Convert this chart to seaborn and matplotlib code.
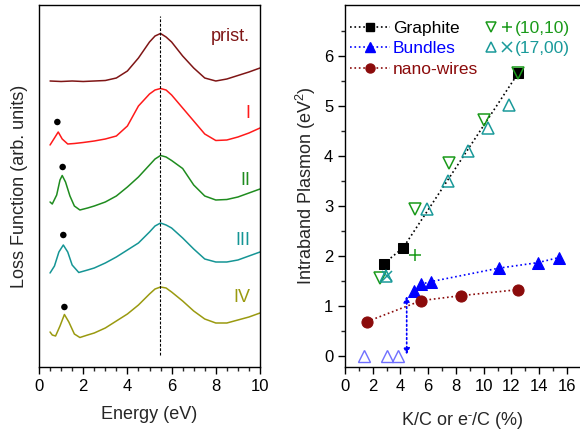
import numpy as np
import pandas as pd
import matplotlib
matplotlib.use("Agg")
import matplotlib.pyplot as plt
import seaborn as sns
from matplotlib.lines import Line2D
from matplotlib.legend_handler import HandlerTuple
from matplotlib.ticker import MultipleLocator, NullLocator, FixedLocator

# ---- left panel: loss function spectra (arb. units, offset) ----
e_prist = [0.5, 1, 1.5, 2, 2.5, 3, 3.5, 4, 4.5, 5, 5.25, 5.5, 5.75, 6, 6.5, 7, 7.5, 8, 8.5, 9, 9.5, 10]
y_prist = [286, 285.5, 286, 285.5, 286, 286.5, 289, 296, 309, 325, 331, 333.5, 330, 325, 311, 299, 289, 286, 288, 291.5, 295, 299]

e_I = [0.5, 0.7, 0.87, 1.05, 1.3, 1.6, 2, 2.5, 3, 3.5, 4, 4.5, 5, 5.25, 5.5, 5.75, 6, 6.5, 7, 7.5, 8, 8.5, 9, 9.5, 10]
y_I = [222, 229, 235, 228, 223, 223.5, 224.5, 226, 228, 231, 241, 261, 273, 277, 278.5, 277, 272, 259, 246, 233, 226.5, 227, 230, 234, 239]

e_II = [0.5, 0.6, 0.8, 0.95, 1.05, 1.2, 1.4, 1.6, 1.85, 2.2, 2.5, 3, 3.5, 4, 4.5, 5, 5.25, 5.5, 5.75, 6, 6.5, 7, 7.5, 8, 8.5, 9, 9.5, 10]
y_II = [165, 163, 172, 187, 191.5, 185, 171, 161, 157, 159, 161, 165, 171, 180, 190, 202, 208, 211.5, 210, 206.5, 198.5, 182, 171, 167, 167.5, 170, 174, 178]

e_III = [0.5, 0.7, 0.9, 1.1, 1.3, 1.5, 1.8, 2.2, 2.5, 3, 3.5, 4, 4.5, 5, 5.25, 5.5, 5.75, 6, 6.5, 7, 7.5, 8, 8.5, 9, 9.5, 10]
y_III = [94, 101, 115, 122, 115, 102, 94.5, 97, 99, 104, 110, 117, 124, 135, 141, 144, 142, 139, 129, 118, 108, 105, 105, 107, 111, 115]

e_IV = [0.5, 0.6, 0.75, 0.95, 1.15, 1.35, 1.6, 1.85, 2.2, 2.5, 3, 3.5, 4, 4.5, 5, 5.25, 5.5, 5.75, 6, 6.5, 7, 7.5, 8, 8.5, 9, 9.5, 10]
y_IV = [35, 32, 31, 41, 52.5, 45, 33, 29.5, 32, 34, 39, 46, 53, 62, 73, 78, 80, 79, 75, 66, 56, 48, 44, 44, 47, 50, 54]

spec_labels = ["prist.", "I", "II", "III", "IV"]
spec_colors = ["#7f1515", "#ff1a1a", "#1f8c1f", "#159595", "#9a9a10"]
label_y = [331, 254, 187, 127, 70]
dot_e = [0.83, 1.07, 1.1, 1.15]
dot_y = [245, 200, 132, 60]
plasmon_e = 5.47

# ---- right panel: intraband plasmon vs doping ----
graphite_x = [2.8, 4.2, 12.5]
graphite_y = [1.85, 2.17, 5.67]
bundles_x = [5.0, 5.5, 6.2, 11.1, 13.9, 15.4]
bundles_y = [1.31, 1.44, 1.49, 1.76, 1.87, 1.97]
wires_x = [1.6, 5.5, 8.4, 12.5]
wires_y = [0.69, 1.11, 1.21, 1.33]
bundles_zero_x = [1.4, 3.0, 3.85]
bundles_zero_y = [0, 0, 0]
t1010_x = [2.5, 5.05, 7.5, 10.05, 12.5]
t1010_y = [1.57, 2.95, 3.87, 4.73, 5.66]
p1010_x = [5.05]
p1010_y = [2.03]
t1700_x = [2.95, 5.9, 7.45, 8.9, 10.35, 11.8]
t1700_y = [1.6, 2.94, 3.51, 4.1, 4.57, 5.02]
x1700_x = [3.0]
x1700_y = [1.61]
arrow_x = 4.45
arrow_y = [0.03, 1.2]

sns.set_theme(style="ticks")
plt.rcParams["font.family"] = ["Liberation Sans", "DejaVu Sans"]
plt.rcParams["mathtext.fontset"] = "custom"
plt.rcParams["mathtext.rm"] = "Liberation Sans"
plt.rcParams["mathtext.it"] = "Liberation Sans"

fig = plt.figure(figsize=(5.8, 4.32), dpi=100)
ax1 = fig.add_axes([39 / 580, 65 / 432, 221 / 580, 362 / 432])
ax2 = fig.add_axes([345 / 580, 65 / 432, 235 / 580, 362 / 432])

# left panel
spectra = [(e_prist, y_prist), (e_I, y_I), (e_II, y_II), (e_III, y_III), (e_IV, y_IV)]
for (e, y), c in zip(spectra, spec_colors):
    df = pd.DataFrame({"E": e, "L": y})
    sns.lineplot(data=df, x="E", y="L", ax=ax1, color=c, lw=1.1, sort=False, estimator=None)
for lab, c, ly in zip(spec_labels, spec_colors, label_y):
    ax1.text(9.55, ly, lab, color=c, fontsize=13, ha="right", va="center")
sns.scatterplot(x=dot_e, y=dot_y, ax=ax1, color="black", s=22, edgecolor="none")
ax1.plot([plasmon_e, plasmon_e], [12, 351], color="black", ls=(0, (2.5, 1.5)), lw=0.8)

ax1.set_xlim(0, 10)
ax1.set_ylim(0, 362)
ax1.xaxis.set_major_locator(MultipleLocator(2))
ax1.xaxis.set_minor_locator(MultipleLocator(0.5))
ax1.yaxis.set_major_locator(NullLocator())
ax1.set_xlabel("Energy (eV)", fontsize=13, labelpad=9)
ax1.set_ylabel("Loss Function (arb. units)", fontsize=13, labelpad=8)

# right panel
sns.lineplot(x=graphite_x, y=graphite_y, ax=ax2, color="black", ls=":", lw=1.2,
             marker="s", ms=6.5, mec="black", sort=False, estimator=None)
sns.lineplot(x=bundles_x, y=bundles_y, ax=ax2, color="#0000ff", ls=":", lw=1.2,
             marker="^", ms=8.5, mec="#0000ff", sort=False, estimator=None)
sns.lineplot(x=wires_x, y=wires_y, ax=ax2, color="#8b0b0b", ls=":", lw=1.2,
             marker="o", ms=8, mec="#8b0b0b", sort=False, estimator=None)
ax2.plot(bundles_zero_x, bundles_zero_y, ls="none", marker="^", ms=8, mfc="none", mec="#6f6fff", mew=1)
ax2.plot(t1010_x, t1010_y, ls="none", marker="v", ms=8, mfc="none", mec="#1a9a1a", mew=1.1)
ax2.plot(p1010_x, p1010_y, ls="none", marker="+", ms=8, mec="#1a9a1a", mew=1.1)
ax2.plot(t1700_x, t1700_y, ls="none", marker="^", ms=8, mfc="none", mec="#1a9a9a", mew=1.1)
ax2.plot(x1700_x, x1700_y, ls="none", marker="x", ms=7, mec="#1a9a9a", mew=1.1)
ax2.annotate("", xy=(arrow_x, arrow_y[0]), xytext=(arrow_x, arrow_y[1]),
             arrowprops=dict(arrowstyle="<|-|>", color="#0000ff", ls=":", lw=1.2,
                             mutation_scale=9, shrinkA=0, shrinkB=0))

ax2.set_xlim(0, 16.95)
ax2.set_ylim(-0.22, 7.03)
ax2.xaxis.set_major_locator(MultipleLocator(2))
ax2.xaxis.set_minor_locator(MultipleLocator(1))
ax2.yaxis.set_major_locator(FixedLocator([0, 1, 2, 3, 4, 5, 6]))
ax2.yaxis.set_minor_locator(FixedLocator([0.5, 1.5, 2.5, 3.5, 4.5, 5.5, 6.5]))
ax2.spines["right"].set_visible(False)
ax2.set_xlabel("K/C or e$^{\\bar{\\ }}$/C (%)", fontsize=13, labelpad=12)
ax2.set_ylabel("Intraband Plasmon (eV$^2$)", fontsize=13)

for ax in (ax1, ax2):
    for s in ax.spines.values():
        s.set_linewidth(1.0)
        s.set_color("black")
    ax.tick_params(which="major", direction="out", length=5, width=1, labelsize=12, colors="black")
    ax.tick_params(which="minor", direction="out", length=3, width=1)
ax1.tick_params(axis="y", which="both", left=False, labelleft=False)

h1 = [Line2D([], [], color="black", ls=":", lw=1.2, marker="s", ms=6),
      Line2D([], [], color="#0000ff", ls=":", lw=1.2, marker="^", ms=7),
      Line2D([], [], color="#8b0b0b", ls=":", lw=1.2, marker="o", ms=6.5)]
leg1 = ax2.legend(h1, ["Graphite", "Bundles", "nano-wires"], loc="upper left",
                  bbox_to_anchor=(-0.03, 0.99), frameon=False, fontsize=12.5,
                  handlelength=2.3, handletextpad=0.15, labelspacing=0.3, borderaxespad=0.3)
for t, c in zip(leg1.get_texts(), ["black", "#0000ff", "#8b0b0b"]):
    t.set_color(c)
ax2.add_artist(leg1)

h2 = [(Line2D([], [], ls="none", marker="v", ms=7, mfc="none", mec="#1a9a1a", mew=1.1),
       Line2D([], [], ls="none", marker="+", ms=7, mec="#1a9a1a", mew=1.1)),
      (Line2D([], [], ls="none", marker="^", ms=7, mfc="none", mec="#1a9a9a", mew=1.1),
       Line2D([], [], ls="none", marker="x", ms=7, mec="#1a9a9a", mew=1.1))]
leg2 = ax2.legend(h2, ["(10,10)", "(17,00)"], loc="upper left", bbox_to_anchor=(0.545, 0.99),
                  frameon=False, fontsize=12.5, handlelength=1.6, handletextpad=0.1,
                  labelspacing=0.3, borderaxespad=0.3,
                  handler_map={tuple: HandlerTuple(ndivide=None, pad=0.2)})
for t, c in zip(leg2.get_texts(), ["#1a9a1a", "#1a9a9a"]):
    t.set_color(c)

fig.savefig("out.png", dpi=100)
